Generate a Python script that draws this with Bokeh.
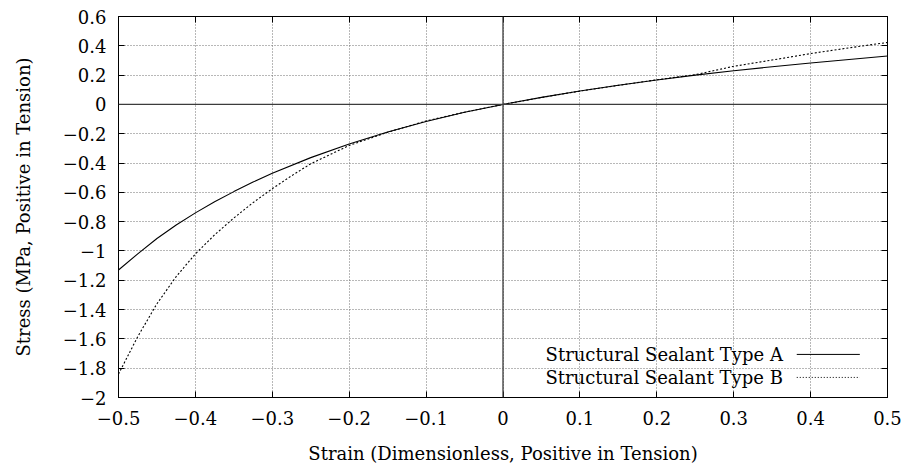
from bokeh.plotting import figure
from bokeh.models import Range1d, LinearAxis, FixedTicker, Span, Label, Arrow, Grid
from bokeh.embed import file_html
from bokeh.resources import INLINE

# Stress-strain curves for two structural sealants (uniaxial, tension positive)
strain_a = [-0.5, -0.475, -0.45, -0.425, -0.4, -0.375, -0.35, -0.325, -0.3, -0.25,
            -0.2, -0.15, -0.1, -0.05, 0.0, 0.05, 0.1, 0.15, 0.2, 0.25, 0.3, 0.35,
            0.4, 0.45, 0.5]
stress_a = [-1.13, -1.02, -0.915, -0.823, -0.74, -0.664, -0.595, -0.53, -0.47, -0.363,
            -0.27, -0.188, -0.116, -0.054, 0.0, 0.048, 0.092, 0.131, 0.167, 0.2, 0.23,
            0.257, 0.283, 0.307, 0.33]

strain_b = [-0.5, -0.475, -0.45, -0.425, -0.4, -0.375, -0.35, -0.325, -0.3, -0.275,
            -0.25, -0.2, -0.15, -0.1, -0.05, 0.0, 0.05, 0.1, 0.15, 0.2, 0.25,
            0.3, 0.35, 0.4, 0.45, 0.5]
stress_b = [-1.84, -1.585, -1.36, -1.175, -1.02, -0.89, -0.775, -0.67, -0.575, -0.487,
            -0.405, -0.28, -0.19, -0.113, -0.053, 0.0, 0.047, 0.091, 0.13, 0.168, 0.203,
            0.26, 0.303, 0.347, 0.386, 0.423]

x_ticks = [-0.5, -0.4, -0.3, -0.2, -0.1, 0.0, 0.1, 0.2, 0.3, 0.4, 0.5]
x_tick_labels = ["\u22120.5", "\u22120.4", "\u22120.3", "\u22120.2", "\u22120.1", "0",
                 "0.1", "0.2", "0.3", "0.4", "0.5"]
y_ticks = [0.6, 0.4, 0.2, 0.0, -0.2, -0.4, -0.6, -0.8, -1.0, -1.2, -1.4, -1.6, -1.8, -2.0]
y_tick_labels = ["0.6", "0.4", "0.2", "0", "\u22120.2", "\u22120.4", "\u22120.6", "\u22120.8",
                 "\u22121", "\u22121.2", "\u22121.4", "\u22121.6", "\u22121.8", "\u22122"]

series_names = ["Structural Sealant Type A", "Structural Sealant Type B"]

FONT = "DejaVu Serif"
FS = "18px"

p = figure(width=904, height=468, output_backend="svg", toolbar_location=None,
           x_range=Range1d(-0.5, 0.5), y_range=Range1d(-2.0, 0.6),
           min_border_left=118, min_border_right=17, min_border_top=16,
           min_border_bottom=71, x_axis_type=None, y_axis_type=None)
p.outline_line_color = "black"
p.outline_line_width = 1
p.background_fill_color = "white"
p.border_fill_color = "white"


def style_axis(ax, ticks, labels, show_labels):
    ax.ticker = FixedTicker(ticks=ticks)
    ax.major_tick_in = 6
    ax.major_tick_out = 0
    ax.minor_tick_line_color = None
    ax.axis_line_color = "black"
    ax.major_tick_line_color = "black"
    if show_labels:
        ax.major_label_overrides = {t: s for t, s in zip(ticks, labels)}
        ax.major_label_text_font = FONT
        ax.major_label_text_font_size = FS
        ax.major_label_text_color = "black"
        ax.axis_label_text_font = FONT
        ax.axis_label_text_font_size = FS
        ax.axis_label_text_font_style = "normal"
        ax.axis_label_text_color = "black"
    else:
        # mirrored tick marks only
        ax.major_label_text_font_size = "1px"
        ax.major_label_text_color = None
        ax.major_label_standoff = 0


xb = LinearAxis(axis_label="Strain (Dimensionless, Positive in Tension)")
style_axis(xb, x_ticks, x_tick_labels, True)
xb.major_label_standoff = 13
xb.axis_label_standoff = 15
p.add_layout(xb, "below")

yl = LinearAxis(axis_label="Stress (MPa, Positive in Tension)")
style_axis(yl, y_ticks, y_tick_labels, True)
yl.major_label_standoff = 12
yl.axis_label_standoff = 26
p.add_layout(yl, "left")

xt = LinearAxis()
style_axis(xt, x_ticks, x_tick_labels, False)
p.add_layout(xt, "above")
yr = LinearAxis()
style_axis(yr, y_ticks, y_tick_labels, False)
p.add_layout(yr, "right")

# dotted grid
for dim, ticks in ((0, x_ticks), (1, y_ticks)):
    p.add_layout(Grid(dimension=dim, ticker=FixedTicker(ticks=ticks),
                      grid_line_color="#707070", grid_line_dash="1 2",
                      grid_line_width=1))

# zero axes
p.add_layout(Span(location=0, dimension="width", line_color="#3c3c3c", line_width=1.3))
p.add_layout(Span(location=0, dimension="height", line_color="#3c3c3c", line_width=1.3))

p.line(strain_a, stress_a, line_color="black", line_width=1.1)
p.line(strain_b, stress_b, line_color="black", line_width=1.1, line_dash="2 2")

# key in the lower right: text right-aligned, sample line to its right
key_text_x = 0.364
key_line_x0, key_line_x1 = 0.382, 0.464
key_rows = [-1.706, -1.863]
key_dash = ["solid", "1 2"]
for name, row, dash in zip(series_names, key_rows, key_dash):
    p.add_layout(Label(x=key_text_x, y=row, text=name, text_align="right",
                       text_baseline="middle", text_font=FONT, text_font_size=FS,
                       text_color="black"))
    p.add_layout(Arrow(end=None, x_start=key_line_x0, y_start=row,
                       x_end=key_line_x1, y_end=row, line_color="black",
                       line_width=1, line_dash=dash))

open("out.html", "w").write(file_html(p, INLINE))
